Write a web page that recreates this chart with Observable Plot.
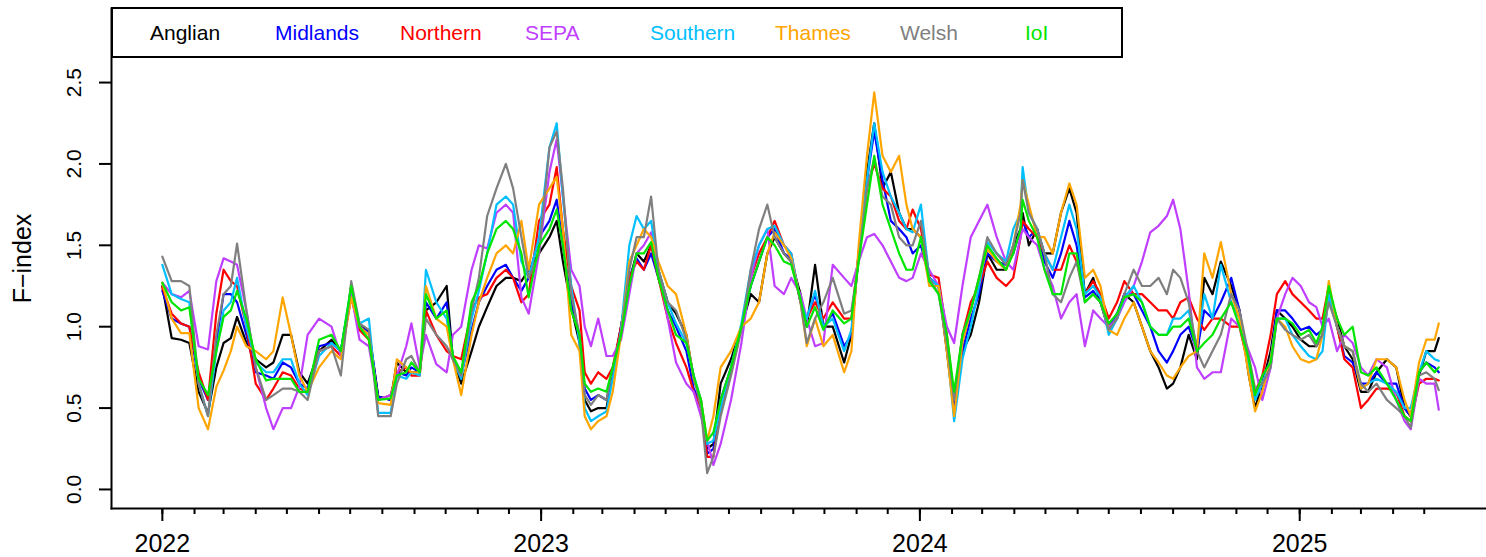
<!DOCTYPE html>
<html>
<head>
<meta charset="utf-8">
<script src="https://cdn.jsdelivr.net/npm/d3@7"></script>
<script src="https://cdn.jsdelivr.net/npm/@observablehq/plot@0.6"></script>
<style>
  html, body { margin: 0; padding: 0; background: #fff; overflow: hidden; }
  #wrap { position: relative; width: 1486px; height: 557px; font-family: "Liberation Sans", Arial, Helvetica, sans-serif; }
  #legend { position: absolute; left: 111px; top: 7px; width: 1012px; height: 51px; box-sizing: border-box; border: 2px solid #000; background: #fff; }
  #legend span { position: absolute; top: 13px; font-size: 21px; line-height: 21px; white-space: nowrap; }
</style>
</head>
<body>
<div id="wrap"><div id="legend"></div></div>
<script>
const regions = ["Anglian", "Midlands", "Northern", "SEPA", "Southern", "Thames", "Welsh", "IoI"];
const colors = ["#000000", "#0000FF", "#FF0000", "#BF3EFF", "#00BFFF", "#FFA500", "#7F7F7F", "#00E600"];

const dates = [
"2022-01-01","2022-01-10","2022-01-19","2022-01-27","2022-02-05","2022-02-14","2022-02-22","2022-03-01","2022-03-08","2022-03-14",
"2022-03-23","2022-04-01","2022-04-11","2022-04-18","2022-04-27","2022-05-05","2022-05-13","2022-05-21","2022-06-01","2022-06-13",
"2022-06-22","2022-07-02","2022-07-10","2022-07-19","2022-07-28","2022-08-09","2022-08-15","2022-08-24","2022-08-29","2022-09-06",
"2022-09-12","2022-09-22","2022-10-02","2022-10-08","2022-10-16","2022-10-26","2022-11-02","2022-11-10","2022-11-19","2022-11-28",
"2022-12-05","2022-12-13","2022-12-20","2022-12-30","2023-01-09","2023-01-16","2023-01-22","2023-01-30","2023-02-07","2023-02-12",
"2023-02-18","2023-02-25","2023-03-05","2023-03-11","2023-03-19","2023-03-27","2023-04-03","2023-04-10","2023-04-17","2023-04-24",
"2023-05-03","2023-05-11","2023-05-21","2023-05-28","2023-06-04","2023-06-10","2023-06-16","2023-06-23","2023-07-03","2023-07-13",
"2023-07-22","2023-07-30","2023-08-07","2023-08-14","2023-08-23","2023-08-30","2023-09-08","2023-09-14","2023-09-22","2023-09-30",
"2023-10-09","2023-10-20","2023-10-27","2023-11-03","2023-11-11","2023-11-18","2023-11-26","2023-12-04","2023-12-12","2023-12-19",
"2023-12-25","2024-01-02","2024-01-10","2024-01-19","2024-01-27","2024-02-03","2024-02-11","2024-02-19","2024-02-27","2024-03-06",
"2024-03-15","2024-03-24","2024-03-31","2024-04-07","2024-04-09","2024-04-15","2024-04-23","2024-04-30","2024-05-08","2024-05-16",
"2024-05-24","2024-05-31","2024-06-08","2024-06-16","2024-06-23","2024-07-01","2024-07-09","2024-07-16","2024-07-25","2024-08-02",
"2024-08-10","2024-08-18","2024-08-26","2024-09-01","2024-09-08","2024-09-16","2024-09-24","2024-10-01","2024-10-09","2024-10-17",
"2024-10-27","2024-11-04","2024-11-13","2024-11-19","2024-11-26","2024-12-04","2024-12-10","2024-12-18","2024-12-25","2025-01-02",
"2025-01-10","2025-01-17","2025-01-23","2025-01-29","2025-02-06","2025-02-13","2025-02-21","2025-03-01","2025-03-08","2025-03-16",
"2025-03-26","2025-04-04","2025-04-12","2025-04-18","2025-04-26","2025-05-03","2025-05-11","2025-05-15"
];

const anglian = [
1.25,0.93,0.92,0.90,0.60,0.47,0.75,0.90,0.93,1.06,0.90,0.80,0.75,0.78,0.95,0.95,0.72,0.65,0.85,0.92,
0.85,1.22,1.00,0.98,0.57,0.55,0.78,0.72,0.72,0.72,1.10,1.15,1.25,0.80,0.65,0.85,1.00,1.12,1.25,1.30,
1.30,1.28,1.35,1.45,1.55,1.65,1.40,1.12,0.90,0.55,0.48,0.50,0.50,0.72,1.00,1.28,1.45,1.40,1.50,1.35,
1.15,1.08,0.95,0.68,0.55,0.25,0.28,0.65,0.80,1.00,1.20,1.15,1.45,1.55,1.45,1.40,1.20,1.00,1.38,1.00,
1.00,0.78,0.95,1.45,1.95,2.25,1.85,1.95,1.70,1.60,1.60,1.55,1.30,1.25,0.85,0.48,0.85,0.95,1.15,1.45,
1.35,1.35,1.50,1.60,1.70,1.50,1.60,1.45,1.45,1.70,1.85,1.70,1.20,1.30,1.15,0.98,1.05,1.20,1.15,1.00,
0.85,0.75,0.62,0.65,0.75,0.95,0.80,1.30,1.20,1.40,1.25,1.10,0.70,0.50,0.65,0.85,1.10,1.05,1.00,0.92,
0.88,0.88,0.95,1.20,1.05,0.88,0.80,0.60,0.60,0.72,0.80,0.75,0.50,0.45,0.70,0.85,0.85,0.93
];
const midlands = [
1.22,1.05,1.02,1.00,0.68,0.55,0.90,1.20,1.20,1.15,0.95,0.72,0.70,0.68,0.78,0.75,0.65,0.62,0.88,0.90,
0.85,1.22,1.00,0.97,0.57,0.55,0.72,0.70,0.75,0.72,1.15,1.05,1.15,0.80,0.70,0.98,1.15,1.25,1.35,1.38,
1.30,1.22,1.30,1.55,1.65,1.78,1.50,1.15,0.95,0.62,0.55,0.58,0.55,0.72,1.00,1.30,1.42,1.35,1.45,1.30,
1.10,1.00,0.85,0.62,0.52,0.22,0.25,0.55,0.75,1.00,1.25,1.40,1.55,1.60,1.45,1.42,1.15,1.05,1.20,1.00,
1.08,0.88,0.95,1.45,1.90,2.20,1.90,1.65,1.60,1.55,1.45,1.50,1.30,1.25,0.90,0.50,0.85,1.05,1.20,1.45,
1.40,1.38,1.45,1.60,1.65,1.55,1.60,1.40,1.30,1.45,1.65,1.50,1.18,1.22,1.15,1.00,1.08,1.20,1.20,1.10,
1.00,0.85,0.78,0.85,0.95,1.00,0.85,1.10,1.05,1.15,1.30,1.10,0.75,0.60,0.65,0.80,1.10,1.10,1.05,0.98,
1.00,0.95,0.98,1.20,1.00,0.82,0.78,0.65,0.65,0.72,0.65,0.65,0.50,0.45,0.72,0.78,0.75,0.72
];
const northern = [
1.24,1.08,1.02,1.00,0.72,0.55,1.08,1.35,1.28,1.25,1.00,0.65,0.55,0.62,0.72,0.70,0.62,0.60,0.85,0.88,
0.82,1.18,0.98,0.92,0.55,0.58,0.72,0.75,0.70,0.70,1.10,0.95,0.85,0.82,0.80,1.10,1.18,1.20,1.30,1.35,
1.30,1.15,1.20,1.65,1.75,1.98,1.60,1.25,1.10,0.72,0.65,0.72,0.68,0.75,1.00,1.30,1.40,1.35,1.50,1.30,
1.05,0.90,0.75,0.60,0.50,0.20,0.20,0.50,0.72,1.00,1.30,1.45,1.55,1.65,1.50,1.45,1.15,1.05,1.15,1.05,
1.15,1.05,1.05,1.45,1.85,2.00,1.85,1.80,1.65,1.60,1.72,1.60,1.32,1.30,0.95,0.55,0.95,1.15,1.25,1.40,
1.30,1.25,1.30,1.55,1.65,1.60,1.55,1.45,1.35,1.35,1.50,1.40,1.20,1.28,1.20,1.05,1.15,1.28,1.20,1.20,
1.15,1.10,1.10,1.05,1.15,1.18,1.05,0.98,1.05,1.05,1.00,1.00,0.75,0.60,0.70,0.95,1.20,1.28,1.20,1.15,
1.10,1.05,1.05,1.25,1.00,0.80,0.75,0.50,0.55,0.62,0.62,0.60,0.45,0.42,0.65,0.68,0.68,0.67
];
const sepa = [
1.27,1.20,1.18,1.22,0.88,0.86,1.28,1.42,1.40,1.38,1.10,0.75,0.50,0.37,0.50,0.50,0.63,0.95,1.05,1.00,
0.82,1.20,0.92,0.88,0.55,0.58,0.70,0.88,1.02,0.75,0.95,0.77,0.72,0.95,1.00,1.35,1.50,1.48,1.70,1.75,
1.70,1.18,1.08,1.45,1.95,2.15,1.80,1.35,1.25,1.00,0.88,1.05,0.82,0.82,0.92,1.20,1.45,1.50,1.58,1.35,
1.05,0.78,0.65,0.60,0.45,0.30,0.15,0.28,0.55,0.90,1.30,1.50,1.60,1.25,1.20,1.30,1.20,1.05,0.88,0.90,
1.38,1.30,1.25,1.40,1.55,1.57,1.50,1.40,1.30,1.28,1.30,1.45,1.35,1.25,1.00,0.90,1.25,1.55,1.65,1.75,
1.55,1.40,1.35,1.55,1.60,1.55,1.50,1.36,1.25,1.05,1.15,1.20,0.88,1.10,1.05,1.00,1.05,1.15,1.25,1.40,
1.58,1.62,1.68,1.78,1.60,1.22,0.75,0.68,0.72,0.72,1.05,1.00,0.85,0.75,0.55,0.75,1.05,1.20,1.30,1.25,
1.15,1.12,1.00,1.05,0.85,0.95,0.90,0.75,0.70,0.80,0.75,0.55,0.42,0.37,0.68,0.65,0.65,0.49
];
const southern = [
1.38,1.20,1.17,1.15,0.65,0.45,0.85,1.10,1.15,1.30,1.00,0.78,0.72,0.72,0.80,0.80,0.65,0.58,0.82,0.90,
0.85,1.25,1.02,1.05,0.47,0.47,0.70,0.68,0.72,0.70,1.35,1.15,1.05,0.80,0.68,1.05,1.22,1.45,1.75,1.80,
1.75,1.40,1.30,1.55,2.10,2.25,1.80,1.25,0.90,0.50,0.42,0.45,0.48,0.68,0.98,1.50,1.68,1.60,1.65,1.35,
1.15,1.02,0.90,0.70,0.55,0.28,0.30,0.50,0.75,1.02,1.35,1.50,1.60,1.62,1.50,1.45,1.15,1.05,1.22,1.00,
1.05,0.85,0.98,1.45,1.90,2.25,1.95,1.80,1.70,1.60,1.58,1.75,1.30,1.25,0.88,0.42,0.80,1.00,1.25,1.52,
1.45,1.40,1.60,1.70,1.98,1.70,1.60,1.45,1.35,1.55,1.75,1.60,1.20,1.25,1.18,0.95,1.05,1.18,1.25,1.15,
1.00,0.95,0.95,1.05,1.05,1.10,0.88,1.20,1.05,1.38,1.15,1.05,0.75,0.55,0.65,0.80,1.05,1.05,0.95,0.88,
0.82,0.80,0.85,1.20,1.00,0.88,0.85,0.62,0.65,0.68,0.65,0.60,0.50,0.50,0.72,0.85,0.80,0.79
];
const thames = [
1.27,1.05,0.96,0.96,0.50,0.37,0.63,0.73,0.85,1.00,0.88,0.85,0.80,0.85,1.18,0.95,0.70,0.60,0.75,0.85,
0.80,1.18,1.00,0.95,0.53,0.52,0.80,0.75,0.72,0.72,1.25,1.05,1.00,0.80,0.58,0.95,1.15,1.30,1.45,1.50,
1.45,1.65,1.35,1.75,1.85,1.92,1.60,0.95,0.85,0.45,0.37,0.42,0.45,0.60,0.95,1.40,1.50,1.60,1.55,1.40,
1.25,1.20,0.95,0.68,0.55,0.30,0.45,0.75,0.85,1.00,1.05,1.15,1.45,1.58,1.50,1.42,1.15,0.88,1.05,0.88,
0.95,0.72,0.85,1.50,2.05,2.44,2.05,1.95,2.05,1.75,1.60,1.55,1.25,1.25,0.85,0.45,0.90,1.10,1.30,1.48,
1.40,1.35,1.50,1.75,1.90,1.75,1.55,1.55,1.45,1.70,1.88,1.75,1.30,1.35,1.25,0.98,0.95,1.05,1.15,1.00,
0.85,0.78,0.70,0.68,0.75,0.82,0.85,1.45,1.30,1.52,1.20,1.05,0.70,0.48,0.60,0.80,1.05,1.00,0.88,0.80,
0.78,0.80,0.95,1.28,1.00,0.88,0.85,0.62,0.65,0.80,0.80,0.75,0.55,0.45,0.78,0.92,0.92,1.02
];
const welsh = [
1.43,1.28,1.28,1.25,0.65,0.45,0.95,1.20,1.25,1.51,1.10,0.75,0.55,0.58,0.62,0.62,0.60,0.55,0.85,0.88,
0.70,1.28,1.02,0.98,0.45,0.45,0.65,0.80,0.82,0.72,1.05,0.95,0.88,0.80,0.70,1.10,1.30,1.68,1.85,2.00,
1.85,1.55,1.30,1.45,2.10,2.20,1.85,1.20,0.95,0.58,0.52,0.58,0.55,0.75,0.95,1.35,1.55,1.55,1.80,1.35,
1.15,1.10,0.92,0.70,0.50,0.10,0.20,0.45,0.70,0.98,1.35,1.60,1.75,1.55,1.45,1.40,1.15,0.90,1.05,1.15,
1.30,1.08,1.10,1.40,1.85,2.03,1.80,1.75,1.55,1.50,1.50,1.65,1.30,1.20,0.90,0.55,0.95,1.10,1.30,1.55,
1.45,1.38,1.50,1.70,1.90,1.70,1.60,1.45,1.20,1.15,1.30,1.40,1.15,1.20,1.15,0.98,1.05,1.20,1.35,1.25,
1.25,1.30,1.20,1.35,1.30,1.15,0.85,0.75,0.85,0.95,1.20,1.10,0.82,0.62,0.65,0.75,1.05,0.98,0.95,0.92,
0.95,0.88,0.95,1.15,1.00,0.88,0.85,0.65,0.60,0.65,0.55,0.50,0.45,0.38,0.70,0.72,0.68,0.61
];
const ioi = [
1.27,1.15,1.10,1.12,0.68,0.58,0.85,1.06,1.10,1.22,1.05,0.80,0.67,0.68,0.68,0.68,0.60,0.60,0.92,0.95,
0.85,1.25,1.00,0.92,0.55,0.56,0.70,0.72,0.78,0.72,1.20,1.05,1.10,0.82,0.72,1.15,1.25,1.45,1.60,1.65,
1.60,1.45,1.18,1.50,1.60,1.72,1.50,1.10,0.95,0.65,0.60,0.62,0.60,0.75,0.95,1.25,1.45,1.45,1.52,1.30,
1.10,0.95,0.90,0.70,0.55,0.30,0.35,0.55,0.75,1.00,1.25,1.40,1.55,1.50,1.40,1.38,1.17,1.00,1.12,0.98,
1.10,1.02,1.05,1.40,1.75,2.05,1.75,1.60,1.45,1.35,1.35,1.55,1.28,1.20,0.95,0.60,0.95,1.10,1.30,1.50,
1.42,1.35,1.45,1.60,1.78,1.65,1.55,1.35,1.20,1.20,1.45,1.45,1.15,1.20,1.15,1.02,1.08,1.18,1.20,1.15,
1.00,0.95,0.95,1.00,1.00,1.05,0.85,0.90,0.95,1.05,1.15,1.00,0.80,0.58,0.70,0.78,1.05,1.05,1.02,0.95,
0.98,0.90,1.00,1.25,1.05,0.95,1.00,0.72,0.70,0.75,0.65,0.55,0.45,0.42,0.72,0.78,0.72,0.75
];

const yTicks = [0, 0.5, 1.0, 1.5, 2.0, 2.5];
const yearTicks = ["2022-01-01", "2023-01-01", "2024-01-01", "2025-01-01"];

const seriesValues = [anglian, midlands, northern, sepa, southern, thames, welsh, ioi];
const parsed = dates.map(d => new Date(d + "T00:00:00Z"));
const data = regions.flatMap((r, k) => parsed.map((d, i) => ({date: d, value: seriesValues[k][i], region: r})));
const monthTicks = d3.utcMonth.range(new Date("2022-01-01T00:00:00Z"), new Date("2025-05-02T00:00:00Z"));
const yearDates = yearTicks.map(d => new Date(d + "T00:00:00Z"));

const font = '"Liberation Sans", Arial, Helvetica, sans-serif';

const chart = Plot.plot({
  width: 1486,
  height: 557,
  marginLeft: 111,
  marginRight: 0,
  marginTop: 8,
  marginBottom: 49,
  style: {fontFamily: font, background: "#fff", color: "#000", overflow: "visible"},
  x: {type: "utc", domain: [new Date("2021-11-13T00:00:00Z"), new Date("2025-06-30T00:00:00Z")]},
  y: {domain: [-0.117, 2.955]},
  color: {domain: regions, range: colors},
  marks: [
    Plot.line(data, {x: "date", y: "value", z: "region", stroke: "region", strokeWidth: 2.2, strokeLinejoin: "round"}),
    Plot.frame({anchor: "left", stroke: "#000", strokeWidth: 2}),
    Plot.frame({anchor: "bottom", stroke: "#000", strokeWidth: 2}),
    Plot.axisY({ticks: yTicks, tickSize: 12, tickFormat: () => "", label: null, strokeWidth: 2}),
    Plot.text(yTicks, {y: d => d, text: d => d3.format(".1f")(d), frameAnchor: "left", dx: -37, rotate: -90, textAnchor: "middle", lineAnchor: "middle", fontSize: 21, fill: "#000"}),
    Plot.axisX({ticks: monthTicks, tickSize: 6, tickFormat: () => "", label: null, strokeWidth: 2}),
    Plot.axisX({ticks: yearDates, tickSize: 13, tickPadding: 13, tickFormat: "%Y", fontSize: 25, label: null, strokeWidth: 2}),
    Plot.text(["F\u2212index"], {frameAnchor: "left", dx: -89, rotate: -90, textAnchor: "middle", lineAnchor: "middle", fontSize: 25, fill: "#000"})
  ]
});

const wrap = document.getElementById("wrap");
wrap.insertBefore(chart, wrap.firstChild);

const legend = document.getElementById("legend");
const legendLeft = [150, 275, 400, 525, 650, 775, 900, 1025];
regions.forEach((r, i) => {
  const s = document.createElement("span");
  s.textContent = r;
  s.style.color = colors[i];
  s.style.left = (legendLeft[i] - 113) + "px";
  legend.appendChild(s);
});
</script>
</body>
</html>
